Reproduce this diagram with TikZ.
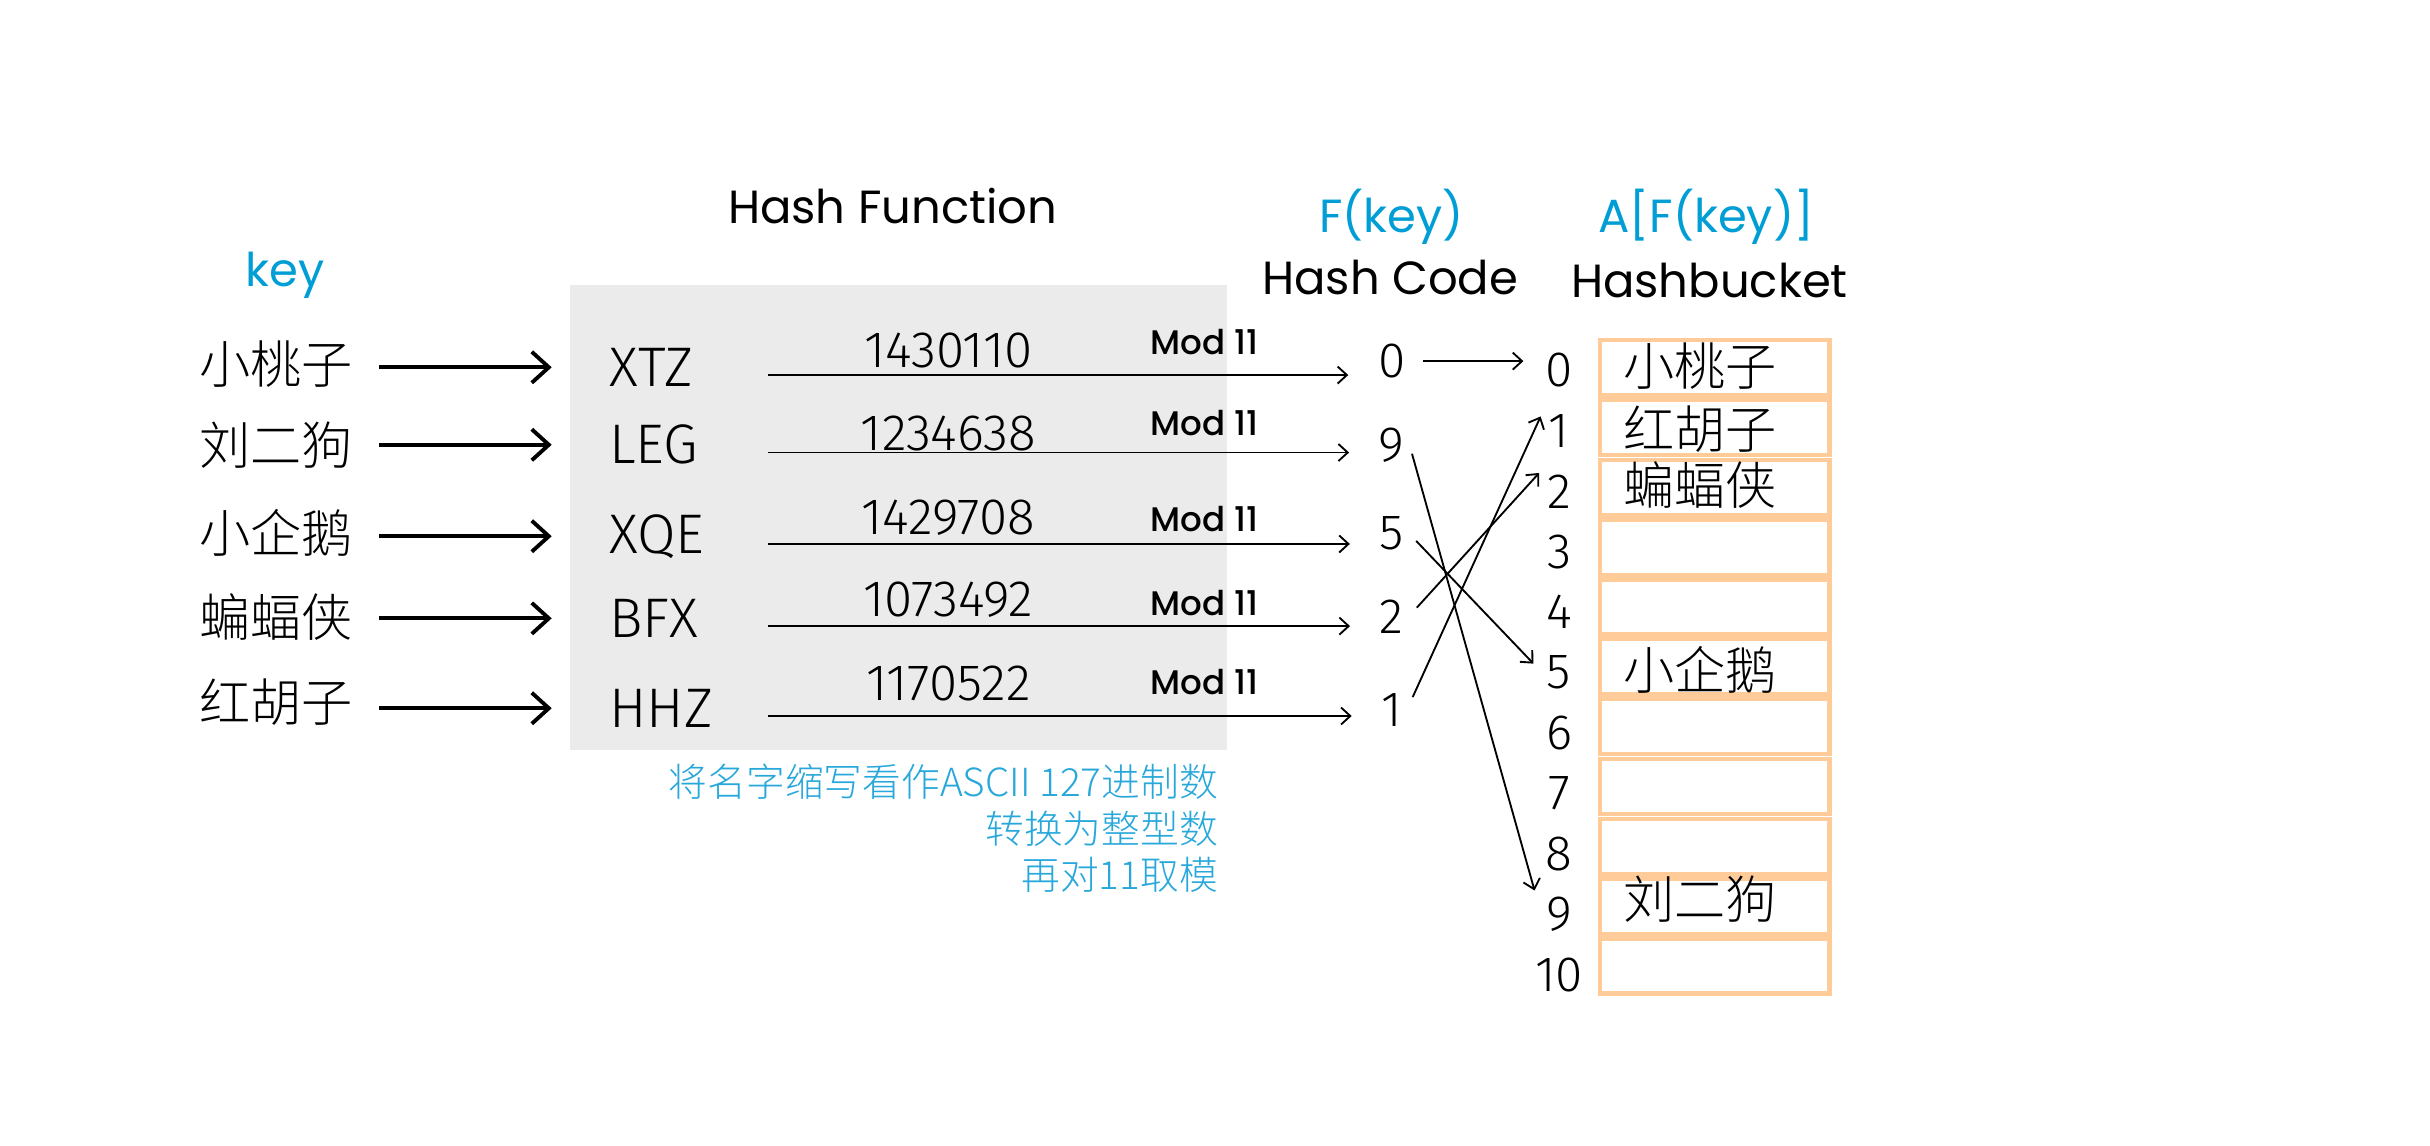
\documentclass[tikz,border=0pt]{standalone}
\usepackage{fontspec}
\usepackage{tikz}
\usetikzlibrary{arrows.meta}
\definecolor{hbBlue}{RGB}{0,158,212}
\definecolor{hbNote}{RGB}{40,168,218}
\definecolor{hbGrey}{RGB}{235,235,235}
\definecolor{hbOrange}{RGB}{255,204,153}
\newfontfamily\geofont{Poppins}
\IfFontExistsTF{Poppins Medium}{\newfontfamily\modfont{Poppins Medium}}{\newfontfamily\modfont{Poppins}}
\IfFontExistsTF{Noto Sans CJK SC Light}{\newfontfamily\cjkfont{Noto Sans CJK SC Light}}{\newfontfamily\cjkfont{Noto Sans CJK SC}}
\IfFontExistsTF{Fira Sans Light}{\newfontfamily\thinfont{Fira Sans Light}}{\newfontfamily\thinfont{Noto Sans CJK SC}}
\newcommand{\fsz}[1]{\fontsize{#1}{#1}\selectfont}

\begin{document}
\begin{tikzpicture}[x=1pt, y=-1pt,
    head/.style={font=\geofont\fsz{30}, anchor=base, inner sep=0pt},
    keyname/.style={font=\cjkfont\fsz{33}, inner sep=2pt},
    abbr/.style={font=\thinfont\fsz{36}, anchor=west, inner sep=2pt,
      text width=62pt, align=left},
    code/.style={font=\thinfont\fsz{32}, inner sep=3pt},
    num/.style={font=\thinfont\fsz{33}, inner sep=0pt},
    modlbl/.style={font=\modfont\fsz{22}, inner sep=0pt},
    cell/.style={draw=hbOrange, line width=2.8pt, minimum width=148pt,
      minimum height=35.6pt, inner sep=0pt},
    bigarr/.style={-{Straight Barb[length=11pt, width=20pt]}, line width=2.5pt},
    thinarr/.style={-{Straight Barb[length=6pt, width=11pt]}, line width=1.2pt}
  ]
    \useasboundingbox (0,0) rectangle (1568,739);
    \fill[hbGrey] (368,184) rectangle (792,484);

    \node[head] (hf) at (576,144) {Hash Function};
    \node[head, text=hbBlue] (ky) at (184,185) {key};
    \node[head, text=hbBlue] (fk) at (898,150) {F(key)};
    \node[head] (hcode) at (897,190) {Hash Code};
    \node[head, text=hbBlue] (afk) at (1101,150) {A[F(key)]};
    \node[head] (hbkt) at (1103,192) {Hashbucket};

    \node[keyname] (k1) at (178,235) {小桃子};
    \node[keyname] (k2) at (178,287) {刘二狗};
    \node[keyname] (k3) at (178,344) {小企鹅};
    \node[keyname] (k4) at (178,398) {蝙蝠侠};
    \node[keyname] (k5) at (178,453) {红胡子};

    \node[abbr] (ab1) at (391,237) {XTZ};
    \node[abbr] (ab2) at (391,287) {LEG};
    \node[abbr] (ab3) at (391,346) {XQE};
    \node[abbr] (ab4) at (391,399) {BFX};
    \node[abbr] (ab5) at (391,457) {HHZ};

    \node[code] (hc1) at (898,233) {0};
    \node[code] (hc2) at (898,287) {9};
    \node[code] (hc3) at (898,344) {5};
    \node[code] (hc4) at (898,398) {2};
    \node[code] (hc5) at (898,458) {1};

    \node[num] (n1) at (612,226) {1430110};
    \node[num] (n2) at (612,280) {1234638};
    \node[num] (n3) at (612,334) {1429708};
    \node[num] (n4) at (612,387) {1073492};
    \node[num] (n5) at (612,441) {1170522};
    \node[modlbl] (m1) at (777,221) {Mod 11};
    \node[modlbl] (m2) at (777,273) {Mod 11};
    \node[modlbl] (m3) at (777,335) {Mod 11};
    \node[modlbl] (m4) at (777,389) {Mod 11};
    \node[modlbl] (m5) at (777,440) {Mod 11};

    \foreach \i in {0,...,10} {
      \node[cell] (c\i) at (1106.5,237.3+38.6*\i) {};
      \node[code] (i\i) at (1006,239+39*\i) {\i};
    }
    \node[keyname] (v0) at (1097,236) {小桃子};
    \node[keyname] (v1) at (1097,277) {红胡子};
    \node[keyname] (v2) at (1097,313) {蝙蝠侠};
    \node[keyname] (v5) at (1097,432) {小企鹅};
    \node[keyname] (v9) at (1097,580) {刘二狗};

    \node[font=\cjkfont\fontsize{25}{30}\selectfont, text=hbNote, align=right,
      anchor=north east, inner sep=0pt] (note) at (786,493)
      {将名字缩写看作ASCII 127进制数\\转换为整型数\\再对11取模};

    % key -> abbreviation
    \foreach \r in {1,...,5}
      \draw[bigarr, shorten <=15pt, shorten >=35pt] (ab\r.west -| k\r.east) -- (ab\r.west);
    % abbreviation -> hash code
    \foreach \r in {1,...,5}
      \draw[thinarr, shorten <=38pt, shorten >=16pt, transform canvas={yshift=-5pt}]
        (ab\r.east) -- (ab\r.east -| hc\r.west);
    % hash code -> bucket
    \draw[thinarr, shorten <=8pt, shorten >=11pt] (hc1.east) -- (hc1.east -| i0.west);
    \draw[thinarr, shorten <=6pt, shorten >=16pt] (hc2.east) -- (i9.west);
    \draw[thinarr, shorten <=7pt, shorten >=8pt] (hc3.east) -- (i5.west);
    \draw[thinarr, shorten <=8pt, shorten >=3pt] (hc4.east) -- (i2.north west);
    \draw[thinarr, shorten <=9pt, shorten >=5pt] (hc5.east) -- (i1.north west);
  \end{tikzpicture}
\end{document}
